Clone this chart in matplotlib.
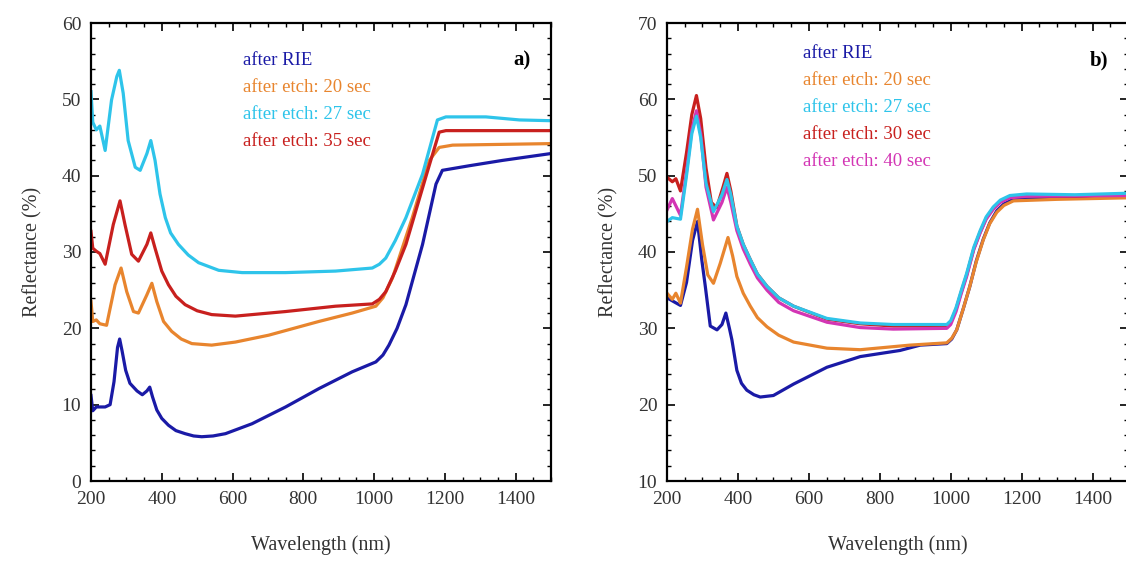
"""
Reflectance spectra after RIE and after etching, two samples (a, b).
"""
import matplotlib
matplotlib.use("Agg")
import matplotlib.pyplot as plt
from matplotlib.ticker import MultipleLocator

plt.rcParams.update({
    "font.family": ["Liberation Serif", "DejaVu Serif"],
    "font.size": 14,
    "axes.linewidth": 1.6,
})

BLUE = "#1a1aa6"
ORANGE = "#e8852e"
CYAN = "#2ec4ea"
RED = "#c8201e"
PINK = "#d335b4"

# ---- panel a ----
a_rie_wl = [200, 205, 215, 240, 254, 265, 275, 281, 288, 298, 310, 330, 345, 358, 366,
            374, 386, 400, 419, 440, 466, 490, 513, 545, 580, 655, 750, 844, 938, 1005,
            1025, 1042, 1065, 1090, 1137, 1175, 1193, 1269, 1363, 1500]
a_rie_r = [11.2, 9.2, 9.7, 9.7, 10.0, 13.0, 17.5, 18.6, 17.0, 14.5, 12.8, 11.8, 11.3, 11.8,
           12.3, 11.0, 9.3, 8.2, 7.3, 6.6, 6.2, 5.9, 5.8, 5.9, 6.2, 7.5, 9.7, 12.1, 14.3,
           15.6, 16.5, 17.8, 20.0, 23.1, 31.0, 38.9, 40.7, 41.3, 42.0, 42.9]

a_20_wl = [200, 205, 215, 225, 244, 268, 285, 301, 320, 334, 358, 372, 386, 405, 428, 455,
           485, 541, 608, 702, 844, 938, 1005, 1025, 1052, 1108, 1156, 1184, 1222, 1500]
a_20_r = [23.5, 20.9, 21.1, 20.6, 20.4, 25.7, 27.9, 24.8, 22.2, 22.0, 24.4, 25.9, 23.5, 20.9,
          19.6, 18.6, 18.0, 17.8, 18.2, 19.1, 20.9, 22.0, 22.9, 24.0, 26.6, 34.5, 42.0,
          43.7, 44.0, 44.2]

a_27_wl = [200, 205, 215, 225, 240, 258, 273, 280, 291, 305, 325, 339, 358, 369, 381, 395,
           410, 425, 447, 475, 504, 561, 627, 750, 891, 995, 1015, 1033, 1060, 1090, 1137,
           1179, 1203, 1316, 1411, 1500]
a_27_r = [51.0, 47.0, 46.0, 46.5, 43.3, 49.9, 53.0, 53.8, 50.8, 44.6, 41.1, 40.7, 42.9, 44.6,
          42.0, 37.6, 34.5, 32.5, 31.0, 29.6, 28.6, 27.6, 27.3, 27.3, 27.5, 27.9, 28.4,
          29.2, 31.5, 34.5, 40.2, 47.3, 47.7, 47.7, 47.3, 47.2]

a_35_wl = [200, 205, 215, 225, 240, 263, 282, 296, 315, 334, 358, 369, 381, 400, 419, 440,
           466, 500, 541, 608, 750, 891, 995, 1015, 1033, 1060, 1090, 1146, 1184, 1203, 1500]
a_35_r = [32.7, 30.5, 30.1, 29.8, 28.4, 33.6, 36.7, 33.6, 29.7, 28.8, 31.0, 32.5, 30.5, 27.5,
          25.7, 24.2, 23.1, 22.3, 21.8, 21.6, 22.2, 22.9, 23.2, 23.8, 24.8, 27.5, 31.0,
          39.8, 45.7, 45.9, 45.9]

# ---- panel b ----
b_rie_wl = [200, 215, 238, 255, 272, 286, 298, 308, 322, 341, 355, 366, 376, 383, 397, 410,
            425, 445, 463, 500, 557, 651, 745, 857, 914, 989, 1003, 1017, 1035, 1054, 1072,
            1092, 1110, 1130, 1150, 1177, 1300, 1500]
b_rie_r = [34.0, 33.6, 33.0, 36.0, 41.5, 44.0, 39.0, 35.5, 30.3, 29.8, 30.5, 32.0, 30.0,
           28.5, 24.5, 22.8, 21.9, 21.3, 21.0, 21.2, 22.7, 24.9, 26.3, 27.1, 27.8, 28.0,
           28.6, 29.8, 32.5, 35.5, 38.8, 41.7, 43.8, 45.4, 46.3, 46.9, 47.1, 47.3]

b_20_wl = [200, 215, 225, 238, 255, 272, 286, 300, 315, 331, 350, 372, 385, 397, 415, 435,
           455, 482, 515, 557, 651, 745, 885, 989, 1003, 1017, 1035, 1054, 1072, 1092, 1110,
           1130, 1150, 1177, 1300, 1500]
b_20_r = [34.6, 33.8, 34.6, 33.3, 38.0, 43.0, 45.6, 41.0, 37.0, 35.9, 38.5, 41.9, 39.5, 36.8,
          34.6, 32.9, 31.4, 30.2, 29.1, 28.2, 27.4, 27.2, 27.8, 28.1, 28.7, 29.8, 32.5,
          35.5, 38.7, 41.6, 43.7, 45.2, 46.1, 46.7, 46.9, 47.1]

b_27_wl = [200, 215, 238, 255, 270, 283, 295, 310, 331, 355, 369, 380, 397, 415, 435, 455,
           482, 515, 557, 651, 745, 838, 989, 1000, 1015, 1030, 1045, 1065, 1083, 1100,
           1120, 1140, 1167, 1214, 1350, 1500]
b_27_r = [44.0, 44.5, 44.3, 50.0, 55.5, 57.8, 55.0, 49.0, 45.3, 47.5, 49.5, 47.5, 43.4, 41.0,
          39.0, 37.1, 35.5, 34.0, 32.9, 31.3, 30.7, 30.5, 30.5, 31.0, 32.7, 35.0, 37.2,
          40.6, 42.8, 44.6, 45.9, 46.8, 47.4, 47.6, 47.5, 47.7]

b_30_wl = [200, 215, 225, 238, 255, 270, 283, 295, 310, 325, 340, 358, 369, 380, 397, 415,
           435, 455, 482, 515, 557, 651, 745, 838, 989, 1000, 1015, 1030, 1045, 1065, 1083,
           1100, 1120, 1140, 1167, 1214, 1350, 1500]
b_30_r = [49.8, 49.2, 49.6, 48.0, 53.0, 58.0, 60.5, 57.5, 51.0, 46.5, 45.8, 48.5, 50.3, 48.0,
          43.4, 41.0, 39.0, 37.1, 35.5, 34.0, 32.9, 31.2, 30.6, 30.3, 30.3, 30.8, 32.5,
          34.8, 37.0, 40.4, 42.6, 44.4, 45.7, 46.6, 47.2, 47.4, 47.3, 47.6]

b_40_wl = [200, 215, 238, 255, 270, 283, 295, 310, 331, 355, 369, 380, 397, 415, 435, 455,
           482, 515, 557, 651, 745, 838, 989, 1000, 1015, 1030, 1045, 1065, 1083, 1100,
           1120, 1140, 1167, 1214, 1500]
b_40_r = [45.5, 47.0, 44.8, 50.5, 56.0, 58.5, 55.5, 48.5, 44.2, 46.5, 48.5, 46.5, 42.8, 40.4,
          38.4, 36.6, 35.0, 33.4, 32.3, 30.8, 30.1, 29.9, 30.0, 30.5, 32.2, 34.6, 36.8,
          40.3, 42.5, 44.3, 45.6, 46.5, 47.1, 47.3, 47.4]

a_labels = ["after RIE", "after etch: 20 sec", "after etch: 27 sec", "after etch: 35 sec"]
b_labels = ["after RIE", "after etch: 20 sec", "after etch: 27 sec",
            "after etch: 30 sec", "after etch: 40 sec"]


def style_axes(ax, ymin, ymax):
    ax.set_xlim(200, 1500)
    ax.set_ylim(ymin, ymax)
    ax.xaxis.set_major_locator(MultipleLocator(200))
    ax.xaxis.set_minor_locator(MultipleLocator(50))
    ax.yaxis.set_major_locator(MultipleLocator(10))
    ax.yaxis.set_minor_locator(MultipleLocator(2))
    ax.tick_params(which="both", direction="in", top=True, right=True,
                   labelcolor="#333333", labelsize=14)
    ax.tick_params(which="major", length=6, width=1.2, pad=7)
    ax.tick_params(which="minor", length=3, width=1.0)
    ax.set_xlabel("Wavelength (nm)", fontsize=14.5, color="#333333", labelpad=20)
    ax.set_ylabel("Reflectance (%)", fontsize=14.5, color="#333333", labelpad=14)


fig = plt.figure(figsize=(11.26, 5.63), dpi=100)
W, H = 1126, 563
ax_a = fig.add_axes([91 / W, 82 / H, 460 / W, 458 / H])
ax_b = fig.add_axes([667 / W, 82 / H, 461 / W, 458 / H])

lw = 2.3
ax_a.plot(a_rie_wl, a_rie_r, color=BLUE, lw=lw)
ax_a.plot(a_20_wl, a_20_r, color=ORANGE, lw=lw)
ax_a.plot(a_35_wl, a_35_r, color=RED, lw=lw)
ax_a.plot(a_27_wl, a_27_r, color=CYAN, lw=lw)
style_axes(ax_a, 0, 60)
for i, (txt, c) in enumerate(zip(a_labels, [BLUE, ORANGE, CYAN, RED])):
    ax_a.text(0.331, 0.919 - i * 0.059, txt, color=c, fontsize=13.5,
              transform=ax_a.transAxes, va="center", ha="left")
ax_a.text(0.956, 0.919, "a)", fontsize=15, fontweight="bold",
          transform=ax_a.transAxes, va="center", ha="right")

ax_b.plot(b_rie_wl, b_rie_r, color=BLUE, lw=lw)
ax_b.plot(b_20_wl, b_20_r, color=ORANGE, lw=lw)
ax_b.plot(b_30_wl, b_30_r, color=RED, lw=lw)
ax_b.plot(b_40_wl, b_40_r, color=PINK, lw=lw)
ax_b.plot(b_27_wl, b_27_r, color=CYAN, lw=lw)
style_axes(ax_b, 10, 70)
for i, (txt, c) in enumerate(zip(b_labels, [BLUE, ORANGE, CYAN, RED, PINK])):
    ax_b.text(0.295, 0.934 - i * 0.059, txt, color=c, fontsize=13.5,
              transform=ax_b.transAxes, va="center", ha="left")
ax_b.text(0.957, 0.919, "b)", fontsize=15, fontweight="bold",
          transform=ax_b.transAxes, va="center", ha="right")

fig.savefig("out.png", dpi=100)
